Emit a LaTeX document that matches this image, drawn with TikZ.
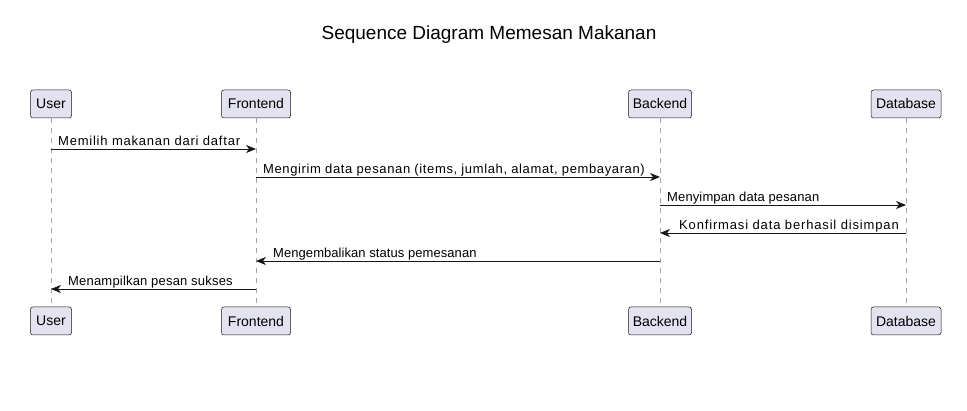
\documentclass[tikz,border=0pt]{standalone}
\usepackage{fontspec}
\setmainfont{Liberation Sans}
\usetikzlibrary{arrows.meta}
\definecolor{partfill}{HTML}{E2E2F0}
\definecolor{partdraw}{HTML}{181818}
\newcommand{\ls}[1]{\addfontfeatures{LetterSpace=#1}}
\tikzset{
  part/.style={draw=partdraw, fill=partfill, rounded corners=2.5pt, line width=0.5pt,
    minimum height=28pt, inner sep=0pt, font=\fontsize{14}{16}\selectfont},
  life/.style={draw=gray!70, dash pattern=on 5pt off 5pt, line width=0.5pt},
  msg/.style={draw=partdraw, line width=0.9pt, -{Stealth[length=10pt,width=8pt,inset=3pt]}},
  lbl/.style={font=\fontsize{13}{15}\selectfont, inner sep=0pt},
}
\begin{document}
\begin{tikzpicture}[x=1pt,y=-1pt]
\useasboundingbox[fill=white] (0,0) rectangle (967,411);
\node[font=\fontsize{19}{23}\selectfont] (title) at (489,34.5) {Sequence Diagram Memesan Makanan};
% top participants
\node[part, minimum width=41pt] (uT) at (51,104) {User};
\node[part, minimum width=69pt] (fT) at (256,104) {Frontend};
\node[part, minimum width=63pt] (bT) at (660,104) {Backend};
\node[part, minimum width=70pt] (dT) at (906,104) {Database};
% bottom participants
\node[part, minimum width=41pt] (uB) at (51,321) {User};
\node[part, minimum width=69pt] (fB) at (256,321) {Frontend};
\node[part, minimum width=63pt] (bB) at (660,321) {Backend};
\node[part, minimum width=70pt] (dB) at (906,321) {Database};
% lifelines
\draw[life] (uT.south) -- (uB.north);
\draw[life] (fT.south) -- (fB.north);
\draw[life] (bT.south) -- (bB.north);
\draw[life] (dT.south) -- (dB.north);
% messages
\draw[msg] (uT |- 0,149) -- (fT |- 0,149);
\node[lbl, anchor=base west] (l1) at (58,146) {\ls{6}Memilih makanan dari daftar};
\draw[msg] (fT |- 0,177) -- (bT |- 0,177);
\node[lbl, anchor=base west] (l2) at (263,174) {\ls{4.8}Mengirim data pesanan (items, jumlah, alamat, pembayaran)};
\draw[msg] (bT |- 0,205) -- (dT |- 0,205);
\node[lbl, anchor=base west] (l3) at (667,202) {\ls{1}Menyimpan data pesanan};
\draw[msg] (dT |- 0,233) -- (bT |- 0,233);
\node[lbl, anchor=base east] (l4) at (899,230) {\ls{6.5}Konfirmasi data berhasil disimpan};
\draw[msg] (bT |- 0,261) -- (fT |- 0,261);
\node[lbl, anchor=base west] (l5) at (273,258) {\ls{0.5}Mengembalikan status pemesanan};
\draw[msg] (fT |- 0,289) -- (uT |- 0,289);
\node[lbl, anchor=base west] (l6) at (68,286) {\ls{1.5}Menampilkan pesan sukses};
\end{tikzpicture}
\end{document}
